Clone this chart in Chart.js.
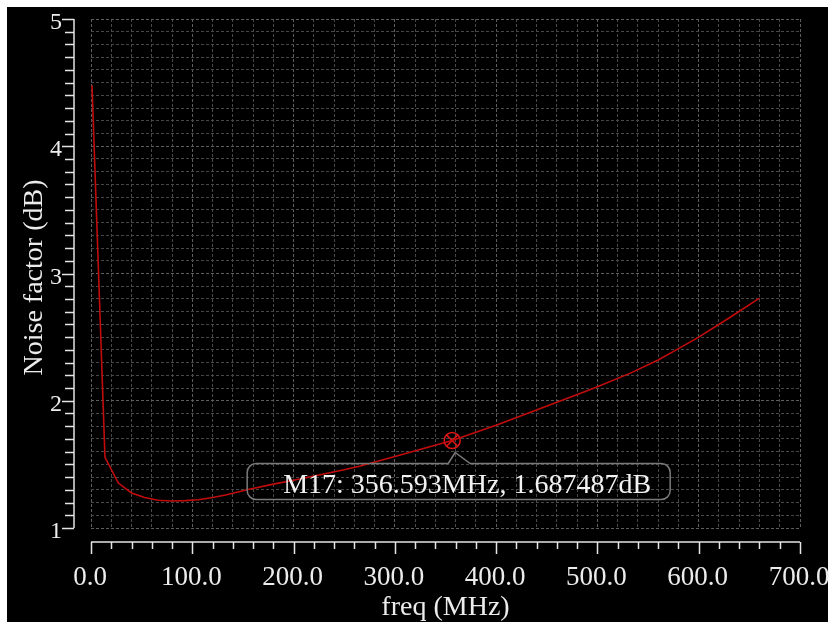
<!DOCTYPE html>
<html>
<head>
<meta charset="utf-8">
<script src="https://cdn.jsdelivr.net/npm/chart.js@4/dist/chart.umd.min.js"></script>
<style>
  html, body { margin: 0; padding: 0; background: #fff; }
  canvas { display: block; }
</style>
</head>
<body>
<canvas id="nfChart" width="832" height="626"></canvas>
<script>
// Noise factor sweep
const freqMHz = [1, 13.8, 27, 40, 53, 66, 80, 93, 106, 120, 133, 154, 180, 200, 225, 250, 265, 300, 330, 356.6, 380, 400, 443, 488, 500, 532, 560, 580, 600, 630, 660];
const noiseDb = [4.48, 1.555, 1.353, 1.275, 1.24, 1.218, 1.212, 1.215, 1.222, 1.24, 1.26, 1.30, 1.345, 1.375, 1.417, 1.458, 1.485, 1.562, 1.628, 1.6875, 1.752, 1.808, 1.937, 2.073, 2.11, 2.215, 2.32, 2.41, 2.50, 2.65, 2.807];

// Marker M17
const markerName = 'M17';
const markerFreq = 356.593;
const markerDb = 1.687487;

// Axis labels
const xTickValues = [0, 100, 200, 300, 400, 500, 600, 700];
const yTickValues = [1, 2, 3, 4, 5];
const xTitle = 'freq (MHz)';
const yTitle = 'Noise factor (dB)';

const X_MIN = 0, X_MAX = 700, X_STEP = 20;
const Y_MIN = 1, Y_MAX = 5, Y_STEP = 0.1;

function stepTicks(min, max, step) {
    const out = [];
    const n = Math.round((max - min) / step);
    for (let i = 0; i <= n; i++) {
        out.push({ value: Math.round((min + i * step) * 1000) / 1000 });
    }
    return out;
}

function isMajor(v, unit) {
    const r = v / unit;
    return Math.abs(r - Math.round(r)) < 1e-6;
}

const SERIF = '"Liberation Serif", "Times New Roman", serif';
const TEXT = '#ececec';
const AXIS = '#e4e4e4';

// black panel with a thin white rim
const backdrop = {
    id: 'backdrop',
    beforeDraw(chart) {
        const ctx = chart.ctx;
        ctx.save();
        ctx.fillStyle = '#ffffff';
        ctx.fillRect(0, 0, chart.width, chart.height);
        ctx.fillStyle = '#000000';
        ctx.fillRect(7, 7, 821, 615);
        ctx.restore();
    }
};

// detached axes, tick marks, labels and the marker callout
const axesAndMarker = {
    id: 'axesAndMarker',
    afterDraw(chart) {
        const ctx = chart.ctx;
        const xs = chart.scales.x;
        const ys = chart.scales.y;
        const area = chart.chartArea;
        const axisX = area.left - 17;
        const axisY = area.bottom + 14;

        ctx.save();
        ctx.strokeStyle = AXIS;
        ctx.lineWidth = 1.5;

        // y axis
        ctx.beginPath();
        ctx.moveTo(axisX, ys.getPixelForValue(Y_MAX));
        ctx.lineTo(axisX, ys.getPixelForValue(Y_MIN));
        stepTicks(Y_MIN, Y_MAX, Y_STEP).forEach(t => {
            const py = Math.round(ys.getPixelForValue(t.value)) + 0.5;
            const len = isMajor(t.value - Y_MIN, 1) ? 12 : 9;
            ctx.moveTo(axisX, py);
            ctx.lineTo(axisX - len, py);
        });
        ctx.stroke();

        // x axis
        ctx.beginPath();
        ctx.moveTo(xs.getPixelForValue(X_MIN), axisY);
        ctx.lineTo(xs.getPixelForValue(X_MAX), axisY);
        stepTicks(X_MIN, X_MAX, X_STEP).forEach(t => {
            const px = Math.round(xs.getPixelForValue(t.value)) + 0.5;
            const len = isMajor(t.value, 100) ? 12 : 7;
            ctx.moveTo(px, axisY);
            ctx.lineTo(px, axisY + len);
        });
        ctx.stroke();

        // tick labels
        ctx.fillStyle = TEXT;
        ctx.font = '24px ' + SERIF;
        ctx.textAlign = 'right';
        ctx.textBaseline = 'alphabetic';
        yTickValues.forEach(v => {
            ctx.fillText(String(v), axisX - 12, ys.getPixelForValue(v) + 10);
        });
        ctx.font = '27px ' + SERIF;
        ctx.textAlign = 'center';
        xTickValues.forEach(v => {
            ctx.fillText(v.toFixed(1), xs.getPixelForValue(v) - 1, area.bottom + 57);
        });

        // axis titles
        ctx.font = '28px ' + SERIF;
        ctx.fillText(xTitle, (area.left + area.right) / 2, area.bottom + 87);
        ctx.save();
        ctx.translate(42, (area.top + area.bottom) / 2 + 4);
        ctx.rotate(-Math.PI / 2);
        ctx.fillText(yTitle, 0, 0);
        ctx.restore();

        // marker callout box
        const mx = xs.getPixelForValue(markerFreq);
        const my = ys.getPixelForValue(markerDb);
        const bl = mx - 205, br = mx + 218, bt = my + 23, bb = my + 59, r = 9;
        ctx.strokeStyle = '#7a7a7a';
        ctx.lineWidth = 1.5;
        ctx.beginPath();
        ctx.moveTo(mx - 4, bt);
        ctx.lineTo(bl + r, bt);
        ctx.arcTo(bl, bt, bl, bt + r, r);
        ctx.lineTo(bl, bb - r);
        ctx.arcTo(bl, bb, bl + r, bb, r);
        ctx.lineTo(br - r, bb);
        ctx.arcTo(br, bb, br, bb - r, r);
        ctx.lineTo(br, bt + r);
        ctx.arcTo(br, bt, br - r, bt, r);
        ctx.lineTo(mx + 18, bt);
        ctx.lineTo(mx + 3, my + 12);
        ctx.lineTo(mx - 4, bt);
        ctx.stroke();

        ctx.fillStyle = '#f2f2f2';
        ctx.font = '28px ' + SERIF;
        ctx.textAlign = 'left';
        const label = markerName + ': ' + markerFreq.toFixed(3) + 'MHz, ' + markerDb.toFixed(6) + 'dB';
        ctx.fillText(label, mx - 169, my + 52);
        ctx.restore();
    }
};

const gridColor = unit => ctx => isMajor(ctx.tick.value, unit) ? '#5e5e5e' : '#484848';

new Chart(document.getElementById('nfChart'), {
    type: 'line',
    data: {
        datasets: [
            {
                data: freqMHz.map((f, i) => ({ x: f, y: noiseDb[i] })),
                borderColor: '#c20c0c',
                borderWidth: 1.6,
                pointRadius: 0,
                tension: 0
            },
            {
                data: [{ x: markerFreq, y: markerDb }],
                showLine: false,
                pointStyle: 'circle',
                pointRadius: 8,
                borderColor: '#e01616',
                borderWidth: 1.5,
                backgroundColor: 'rgba(0,0,0,0)'
            },
            {
                data: [{ x: markerFreq, y: markerDb }],
                showLine: false,
                pointStyle: 'crossRot',
                pointRadius: 8,
                borderColor: '#e01616',
                borderWidth: 1.5
            }
        ]
    },
    options: {
        responsive: false,
        animation: false,
        events: [],
        layout: { padding: { left: 91, top: 19, right: 32, bottom: 98 } },
        plugins: {
            legend: { display: false },
            tooltip: { enabled: false }
        },
        scales: {
            x: {
                type: 'linear',
                min: X_MIN,
                max: X_MAX,
                afterBuildTicks: s => { s.ticks = stepTicks(X_MIN, X_MAX, X_STEP); },
                ticks: { display: false },
                border: { display: false, dash: [3, 2] },
                grid: { drawTicks: false, color: gridColor(100), lineWidth: 1 }
            },
            y: {
                type: 'linear',
                min: Y_MIN,
                max: Y_MAX,
                afterBuildTicks: s => { s.ticks = stepTicks(Y_MIN, Y_MAX, Y_STEP); },
                ticks: { display: false },
                border: { display: false, dash: [3, 2] },
                grid: { drawTicks: false, color: gridColor(1), lineWidth: 1 }
            }
        }
    },
    plugins: [backdrop, axesAndMarker]
});
</script>
</body>
</html>
